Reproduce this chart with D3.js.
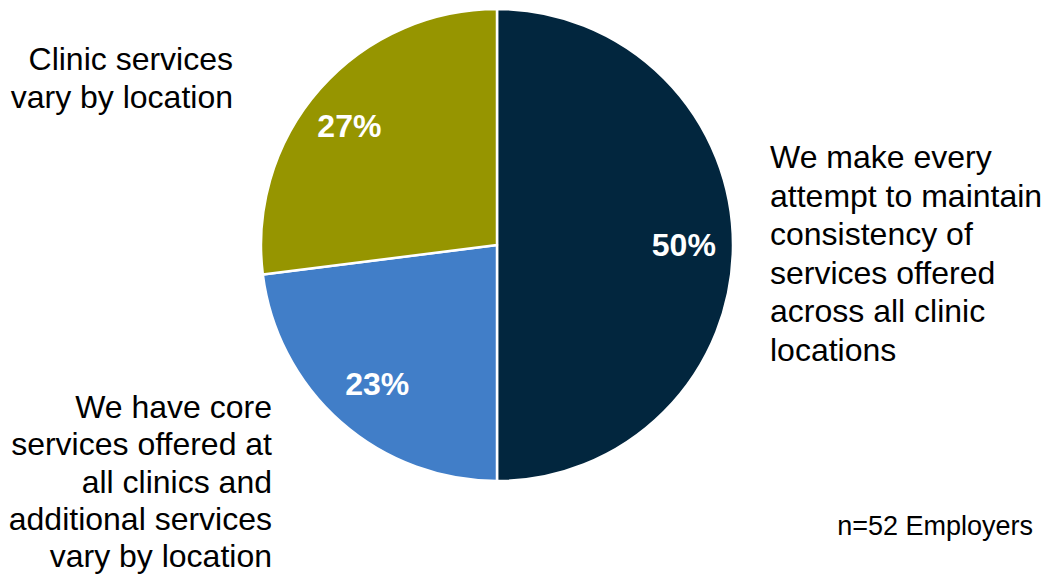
<!DOCTYPE html>
<html>
<head>
<meta charset="utf-8">
<script src="https://cdn.jsdelivr.net/npm/d3@7"></script>
<style>
  html, body { margin: 0; padding: 0; background: #ffffff; }
  svg { display: block; font-family: "Liberation Sans", Arial, sans-serif; }
</style>
</head>
<body>
<svg id="chart" width="1046" height="575"></svg>
<script>
// Share of employers by how clinic services are organised across locations
const categories = [
  "We make every attempt to maintain consistency of services offered across all clinic locations",
  "We have core services offered at all clinics and additional services vary by location",
  "Clinic services vary by location"
];
const values = [50, 23, 27];
const colors = ["#02263e", "#417ec8", "#969500"];
const valueLabels = ["50%", "23%", "27%"];

// Wrapped category labels as they appear around the pie
const labelLines = [
  ["We make every", "attempt to maintain", "consistency of", "services offered", "across all clinic", "locations"],
  ["We have core", "services offered at", "all clinics and", "additional services", "vary by location"],
  ["Clinic services", "vary by location"]
];
const note = "n=52 Employers";

const svg = d3.select("#chart");
const cx = 497, cy = 245, r = 236;

const pie = d3.pie().value(d => d).sort(null);
const arcs = pie(values);
const arc = d3.arc().innerRadius(0).outerRadius(r);
const labelArc = d3.arc().innerRadius(r * 0.8).outerRadius(r * 0.8);
// small hand adjustments of the in-slice percentage labels
const pctNudge = [[-2, 0], [5, -3], [-6, 6]];

const g = svg.append("g").attr("transform", `translate(${cx},${cy})`);

g.selectAll("path.slice")
  .data(arcs)
  .join("path")
  .attr("class", "slice")
  .attr("d", arc)
  .attr("fill", (d, i) => colors[i])
  .attr("stroke", "#ffffff")
  .attr("stroke-width", 2.5)
  .attr("stroke-linejoin", "round");

g.selectAll("text.pct")
  .data(arcs)
  .join("text")
  .attr("class", "pct")
  .attr("transform", (d, i) => {
    const [x, y] = labelArc.centroid(d);
    return `translate(${x + pctNudge[i][0]},${y + pctNudge[i][1]})`;
  })
  .attr("text-anchor", "middle")
  .attr("dominant-baseline", "central")
  .attr("fill", "#ffffff")
  .attr("font-weight", "bold")
  .attr("font-size", 32)
  .text((d, i) => valueLabels[i]);

// Outside category labels
const labelPlacement = [
  { x: 770, y: 168, anchor: "start", step: 38.5 },
  { x: 272, y: 418, anchor: "end", step: 37.3 },
  { x: 233, y: 70, anchor: "end", step: 38.3 }
];

labelLines.forEach((lines, i) => {
  const p = labelPlacement[i];
  const t = svg.append("text")
    .attr("x", p.x)
    .attr("y", p.y)
    .attr("text-anchor", p.anchor)
    .attr("font-size", 32)
    .attr("fill", "#000000");
  lines.forEach((line, j) => {
    t.append("tspan")
      .attr("x", p.x)
      .attr("y", p.y + j * p.step)
      .text(line);
  });
});

svg.append("text")
  .attr("x", 1033)
  .attr("y", 535)
  .attr("text-anchor", "end")
  .attr("font-size", 27)
  .attr("fill", "#000000")
  .text(note);
</script>
</body>
</html>
